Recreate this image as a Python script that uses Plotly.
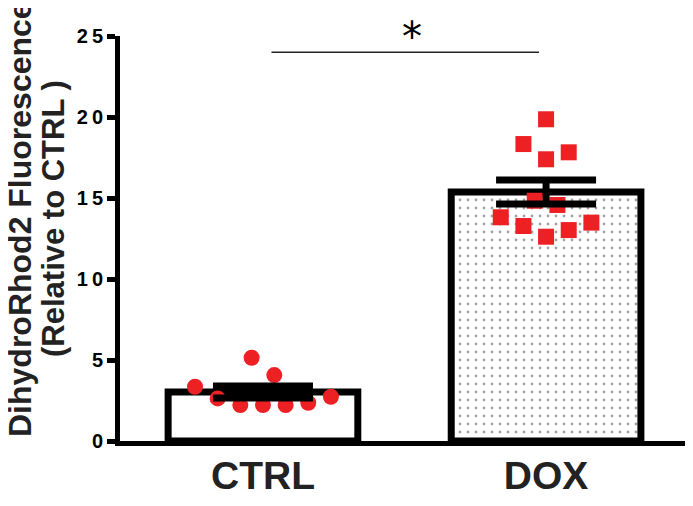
import plotly.graph_objects as go

categories = ["CTRL", "DOX"]
means = [3.02, 15.37]
sems = [0.37, 0.74]

ctrl_values = [3.35, 5.14, 4.07, 2.63, 2.22, 2.22, 2.22, 2.36, 2.73]
ctrl_offsets = [-0.24, -0.04, 0.04, -0.16, -0.08, 0.0, 0.08, 0.16, 0.24]
dox_values = [19.86, 18.33, 17.39, 17.82, 14.83, 14.57, 13.81, 13.27, 12.61, 13.02, 13.48]
dox_offsets = [0.0, -0.08, 0.0, 0.08, -0.04, 0.04, -0.16, -0.08, 0.0, 0.08, 0.16]

ytick_vals = [0, 5, 10, 15, 20, 25]
ytick_text = ["0", "5", "1\u20090", "1\u20095", "2\u20090", "2\u20095"]

RED = "#ED2024"
FONT = "Liberation Sans, Arial, sans-serif"

fig = go.Figure()

fig.add_trace(go.Bar(
    x=[0, 1], y=means, width=0.67,
    marker=dict(
        color=["white", "white"],
        line=dict(color="black", width=7),
        pattern=dict(shape=["", "."], fgcolor="black", bgcolor="white",
                     size=8, solidity=0.1),
    ),
    showlegend=False,
))

fig.add_trace(go.Scatter(
    x=[0 + o for o in ctrl_offsets], y=ctrl_values, mode="markers",
    marker=dict(symbol="circle", size=16, color=RED, line=dict(width=0)),
    showlegend=False, cliponaxis=False,
))
fig.add_trace(go.Scatter(
    x=[1 + o for o in dox_offsets], y=dox_values, mode="markers",
    marker=dict(symbol="square", size=16, color=RED, line=dict(width=0)),
    showlegend=False, cliponaxis=False,
))

fig.add_trace(go.Scatter(
    x=[0, 1], y=means, mode="markers",
    marker=dict(size=1, color="rgba(0,0,0,0)"),
    error_y=dict(type="data", array=sems, color="black", thickness=7, width=50),
    showlegend=False,
))

# page has an 8px body margin: figure is offset by 8px in x and y
OFF = 8
W = 693 - 120
H = 441 - 36

def px_x(px):
    return (px - 120) / W

def px_y(py):
    return (441 - py) / H

# significance bracket
fig.add_shape(type="line", x0=0.03, x1=0.975, y0=24.0, y1=24.0,
              line=dict(color="#222222", width=1.6), xref="x", yref="y")
fig.add_annotation(x=px_x(412), y=px_y(37), xref="paper", yref="paper", text="*",
                   showarrow=False, font=dict(family="DejaVu Sans", size=40, color="black"),
                   xanchor="center", yanchor="middle")

# y axis title (two lines)
fig.add_annotation(x=px_x(20), y=px_y(219), xref="paper", yref="paper",
                   text="<b>DihydroRhod2 Fluorescence</b>", textangle=-90,
                   showarrow=False, xanchor="center", yanchor="middle",
                   font=dict(family=FONT, size=32, color="#222222"))
fig.add_annotation(x=px_x(53), y=px_y(219), xref="paper", yref="paper",
                   text="<b>(Relative to CTRL )</b>", textangle=-90,
                   showarrow=False, xanchor="center", yanchor="middle",
                   font=dict(family=FONT, size=31, color="#222222"))

fig.update_layout(
    width=693 - OFF, height=506 - OFF,
    margin=dict(l=120 - OFF, r=0, t=36 - OFF, b=65),
    paper_bgcolor="white", plot_bgcolor="white",
    xaxis=dict(
        range=[-0.505, 1.519], tickvals=[0, 1], ticktext=categories,
        showgrid=False, zeroline=False, showline=True, linecolor="black", linewidth=5,
        ticks="outside", ticklen=0, tickcolor="rgba(0,0,0,0)", automargin=False,
        ticklabelstandoff=-4,
        tickfont=dict(family=FONT, size=39, color="#222222", weight="bold"),
    ),
    yaxis=dict(
        range=[0, 25], tickvals=ytick_vals, ticktext=ytick_text,
        showgrid=False, zeroline=False, showline=True, linecolor="black", linewidth=5,
        ticks="outside", ticklen=8, tickwidth=5, tickcolor="black", automargin=False,
        tickfont=dict(family=FONT, size=20, color="black", weight="bold"),
    ),
)

fig.write_html("out.html")
